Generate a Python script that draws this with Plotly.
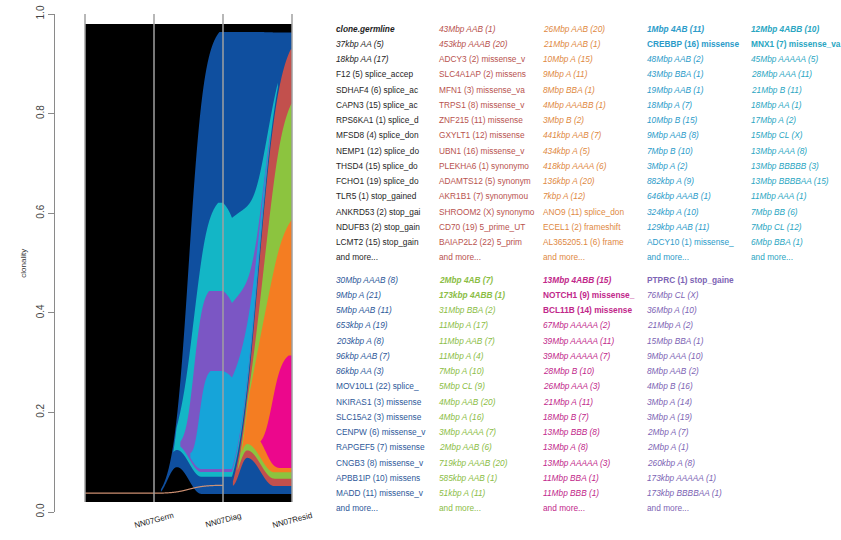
import numpy as np
import plotly.graph_objects as go

# ---------------------------------------------------------------- data
timepoints = ["NN07Germ", "NN07Diag", "NN07Resid"]

# clonality (% of cells) of every clone at NN07Germ / NN07Diag / NN07Resid
pct_germline = [100.0, 100.0, 100.0]
pct_blue = [0.0, 96.8, 96.5]
pct_red = [0.3, 0.3, 91.3]
pct_cyan = [0.0, 57.3, 0.0]
pct_purple = [0.0, 37.9, 0.0]
pct_sky = [0.0, 20.5, 0.0]
pct_green = [0.0, 0.0, 78.4]
pct_orange = [0.0, 0.0, 52.9]
pct_pink = [0.0, 0.0, 23.5]

# clone tree (children listed from the bottom of the parent upwards)
children = {
    "germline": ["blue"],
    "blue": ["red", "cyan"],
    "cyan": ["purple"],
    "purple": ["sky"],
    "red": ["green"],
    "green": ["orange"],
    "orange": ["pink"],
}

# mutations carried by each clone (first 15 shown, the rest summarised)
muts_germline = ["clone.germline", "37kbp AA (5)", "18kbp AA (17)", "F12 (5) splice_accep",
                 "SDHAF4 (6) splice_ac", "CAPN3 (15) splice_ac", "RPS6KA1 (1) splice_d",
                 "MFSD8 (4) splice_don", "NEMP1 (12) splice_do", "THSD4 (15) splice_do",
                 "FCHO1 (19) splice_do", "TLR5 (1) stop_gained", "ANKRD53 (2) stop_gai",
                 "NDUFB3 (2) stop_gain", "LCMT2 (15) stop_gain"]
muts_red = ["43Mbp AAB (1)", "453kbp AAAB (20)", "ADCY3 (2) missense_v", "SLC4A1AP (2) missens",
            "MFN1 (3) missense_va", "TRPS1 (8) missense_v", "ZNF215 (11) missense",
            "GXYLT1 (12) missense", "UBN1 (16) missense_v", "PLEKHA6 (1) synonymo",
            "ADAMTS12 (5) synonym", "AKR1B1 (7) synonymou", "SHROOM2 (X) synonymo",
            "CD70 (19) 5_prime_UT", "BAIAP2L2 (22) 5_prim"]
muts_orange = ["26Mbp AAB (20)", "21Mbp AAB (1)", "10Mbp A (15)", "9Mbp A (11)", "8Mbp BBA (1)",
               "4Mbp AAABB (1)", "3Mbp B (2)", "441kbp AAB (7)", "434kbp A (5)", "418kbp AAAA (6)",
               "136kbp A (20)", "7kbp A (12)", "ANO9 (11) splice_don", "ECEL1 (2) frameshift",
               "AL365205.1 (6) frame"]
muts_sky = ["1Mbp 4AB (11)", "CREBBP (16) missense", "48Mbp AAB (2)", "43Mbp BBA (1)",
            "19Mbp AAB (1)", "18Mbp A (7)", "10Mbp B (15)", "9Mbp AAB (8)", "7Mbp B (10)",
            "3Mbp A (2)", "882kbp A (9)", "646kbp AAAB (1)", "324kbp A (10)", "129kbp AAB (11)",
            "ADCY10 (1) missense_"]
muts_cyan = ["12Mbp 4ABB (10)", "MNX1 (7) missense_va", "45Mbp AAAAA (5)", "28Mbp AAA (11)",
             "21Mbp B (11)", "18Mbp AA (1)", "17Mbp A (2)", "15Mbp CL (X)", "13Mbp AAA (8)",
             "13Mbp BBBBB (3)", "13Mbp BBBBAA (15)", "11Mbp AAA (1)", "7Mbp BB (6)",
             "7Mbp CL (12)", "6Mbp BBA (1)"]
muts_blue = ["30Mbp AAAB (8)", "9Mbp A (21)", "5Mbp AAB (11)", "653kbp A (19)", "203kbp A (8)",
             "96kbp AAB (7)", "86kbp AA (3)", "MOV10L1 (22) splice_", "NKIRAS1 (3) missense",
             "SLC15A2 (3) missense", "CENPW (6) missense_v", "RAPGEF5 (7) missense",
             "CNGB3 (8) missense_v", "APBB1IP (10) missens", "MADD (11) missense_v"]
muts_green = ["2Mbp 4AB (7)", "173kbp 4ABB (1)", "31Mbp BBA (2)", "11Mbp A (17)", "11Mbp AAB (7)",
              "11Mbp A (4)", "7Mbp A (10)", "5Mbp CL (9)", "4Mbp AAB (20)", "4Mbp A (16)",
              "3Mbp AAAA (7)", "2Mbp AAB (6)", "719kbp AAAB (20)", "585kbp AAB (1)", "51kbp A (11)"]
muts_pink = ["13Mbp 4ABB (15)", "NOTCH1 (9) missense_", "BCL11B (14) missense", "67Mbp AAAAA (2)",
             "39Mbp AAAAA (11)", "39Mbp AAAAA (7)", "28Mbp B (10)", "26Mbp AAA (3)", "21Mbp A (11)",
             "18Mbp B (7)", "13Mbp BBB (8)", "13Mbp A (8)", "13Mbp AAAAA (3)", "11Mbp BBA (1)",
             "11Mbp BBB (1)"]
muts_purple = ["PTPRC (1) stop_gaine", "76Mbp CL (X)", "36Mbp A (10)", "21Mbp A (2)",
               "15Mbp BBA (1)", "9Mbp AAA (10)", "8Mbp AAB (2)", "4Mbp B (16)", "3Mbp A (14)",
               "3Mbp A (19)", "2Mbp A (7)", "2Mbp A (1)", "260kbp A (8)", "173kbp AAAAA (1)",
               "173kbp BBBBAA (1)"]

drivers = {"clone.germline", "1Mbp 4AB (11)", "CREBBP (16) missense", "12Mbp 4ABB (10)",
           "MNX1 (7) missense_va", "2Mbp 4AB (7)", "173kbp 4ABB (1)", "13Mbp 4ABB (15)",
           "NOTCH1 (9) missense_", "BCL11B (14) missense", "PTPRC (1) stop_gaine"}

pct = {"germline": pct_germline, "blue": pct_blue, "red": pct_red, "cyan": pct_cyan,
       "purple": pct_purple, "sky": pct_sky, "green": pct_green, "orange": pct_orange,
       "pink": pct_pink}
muts = {"germline": muts_germline, "red": muts_red, "orange": muts_orange, "sky": muts_sky,
        "cyan": muts_cyan, "blue": muts_blue, "green": muts_green, "pink": muts_pink,
        "purple": muts_purple}

# ---------------------------------------------------------------- style
fill = {"germline": "#000000", "blue": "#0f4f9f", "red": "#c2504d", "cyan": "#13b6c6",
        "purple": "#7b56c4", "sky": "#16a4d9", "green": "#8cc43f", "orange": "#f47d22",
        "pink": "#ec078c"}
text_col = {"germline": "#1e1e1e", "blue": "#2d5899", "red": "#b8524e", "cyan": "#2aa6c2",
            "purple": "#7d64b4", "sky": "#2b9bc9", "green": "#8bbd45", "orange": "#e0893f",
            "pink": "#c1278a"}
trace_col = "rgba(214,150,118,0.95)"

# fish shape: where a clone starts/finishes growing or fading inside an interval
shape = {
    "blue": dict(onset=0.05, full=0.96, k=8.0, c=0.5, hump=5.6, hump_peak=0.31, hump_end=0.70),
    "red": dict(onset=0.13, full=0.98, k=5.5, c=0.45, hump=5.9, hump_peak=0.26, hump_end=0.72),
    "cyan": dict(onset=0.18, full=0.93, fade=0.85, k=7.0, c=0.5),
    "purple": dict(onset=0.34, full=0.80, fade=0.75, k=7.0, c=0.5),
    "sky": dict(onset=0.48, full=0.82, fade=0.75, k=7.0, c=0.5),
    "green": dict(onset=0.19, full=0.99, k=5.5, c=0.47),
    "orange": dict(onset=0.20, full=1.00, k=5.0, c=0.42),
    "pink": dict(onset=0.43, full=0.95, k=6.5, c=0.5, hump=2.5, hump_peak=0.22, hump_end=0.75),
}
K_GAP = 0.017          # spacing between a parent edge and its children
Y_LO, Y_SPAN = 0.02, 0.96

W, Hpx = 841, 540
PX_AXIS, PX_X0, PX_X3 = 55, 85, 292
PY_TOP, PY_ZERO = 13.5, 512.0
px_per_x = (PX_X3 - PX_X0) / 3.0
x_lo = (PX_AXIS - PX_X0) / px_per_x
x_hi = 3.0 + 2.0 / px_per_x
plot_w = W - PX_AXIS
LEGEND_FONT = "Liberation Sans, Arial, sans-serif"


def xpaper(px):
    return (px - PX_AXIS) / plot_w


def ypaper(py):
    return (PY_ZERO - py) / (PY_ZERO - PY_TOP)


# ---------------------------------------------------------------- fish layout
X = np.linspace(0.0, 3.0, 1801)


def smooth(u, k=8.0, c=0.5):
    u = np.clip(u, 0.0, 1.0)
    l0 = 1.0 / (1.0 + np.exp(k * c))
    l1 = 1.0 / (1.0 + np.exp(-k * (1.0 - c)))
    return (1.0 / (1.0 + np.exp(-k * (u - c))) - l0) / (l1 - l0)


def bump(u, peak, end):
    out = np.zeros_like(u)
    m1 = (u > 0) & (u < peak)
    out[m1] = 0.5 - 0.5 * np.cos(np.pi * u[m1] / peak)
    m2 = (u >= peak) & (u < end)
    out[m2] = 0.5 + 0.5 * np.cos(np.pi * (u[m2] - peak) / (end - peak))
    return out


def clone_height(name):
    p = pct[name]
    sp = shape.get(name, {})
    k, c = sp.get("k", 8.0), sp.get("c", 0.5)
    h = np.full_like(X, p[0])
    hump = np.zeros_like(X)
    for i in range(len(timepoints) - 1):
        t0 = i + 1.0
        m = (X > t0) & (X <= t0 + 1.0)
        u = X[m] - t0
        a, b = p[i], p[i + 1]
        if a < 1.0 <= b:
            uu = (u - sp["onset"]) / (sp["full"] - sp["onset"])
            h[m] = a + (b - a) * smooth(uu, k, c)
            if sp.get("hump"):
                hump[m] = sp["hump"] * bump(np.clip(uu, 0, None), sp["hump_peak"], sp["hump_end"])
        elif b < 1.0 <= a:
            h[m] = a + (b - a) * smooth(u / sp["fade"], k, c)
        else:
            h[m] = a + (b - a) * smooth(u)
    return h, hump


HGT, HUMP = {}, {}
for n in pct:
    HGT[n], HUMP[n] = clone_height(n)

bot = {"germline": np.zeros_like(X)}
top = {"germline": HGT["germline"].copy()}
base = {"germline": np.zeros_like(X)}   # hump-free position, used for trace-level clones


def place(parent):
    gap = K_GAP * HGT[parent].max()
    gap_base = K_GAP * HGT[parent]
    cur = bot[parent].copy()
    cur_base = base[parent].copy()
    for ch in children.get(parent, []):
        nb = cur + gap
        base[ch] = cur_base + gap_base
        t = np.minimum(nb + HGT[ch], top[parent] - gap)
        b = np.minimum(nb + HUMP[ch], t)
        bot[ch], top[ch] = b, t
        cur = nb + HGT[ch]
        cur_base = base[ch] + HGT[ch]
        place(ch)


place("germline")


def to_y(f):
    return Y_LO + Y_SPAN * f / 100.0


def runs(mask):
    idx = np.flatnonzero(mask)
    if idx.size == 0:
        return []
    cuts = np.flatnonzero(np.diff(idx) > 1)
    starts = np.concatenate([[idx[0]], idx[cuts + 1]])
    ends = np.concatenate([idx[cuts], [idx[-1]]])
    return list(zip(starts, ends))


fig = go.Figure()
draw_order = ["germline", "blue", "red", "cyan", "purple", "sky", "green", "orange", "pink"]
for n in draw_order:
    visible = (HGT[n] >= 1.0) & (top[n] - bot[n] > 1e-4)
    for s, e in runs(visible):
        s0, e0 = max(s - 1, 0), min(e + 1, len(X) - 1)
        xs = X[s0:e0 + 1]
        yt = to_y(top[n][s0:e0 + 1])
        yb = to_y(bot[n][s0:e0 + 1])
        fig.add_trace(go.Scatter(x=np.concatenate([xs, xs[::-1]]),
                                 y=np.concatenate([yt, yb[::-1]]),
                                 mode="lines", fill="toself", fillcolor=fill[n],
                                 line=dict(width=0, color=fill[n], simplify=False),
                                 hoverinfo="skip", showlegend=False))

# clones at trace level are drawn as a hairline
for n in draw_order:
    p = pct[n]
    if 0 < p[0] < 1.0:
        last = max(i for i, v in enumerate(p) if 0 < v < 1.0) + 1.0
        m = X <= last
        fig.add_trace(go.Scatter(x=X[m], y=to_y(base[n][m] + HGT[n][m] / 2), mode="lines",
                                 line=dict(width=1.2, color=trace_col, simplify=False),
                                 hoverinfo="skip", showlegend=False))

# timepoint guides
for xv in range(len(timepoints) + 1):
    fig.add_shape(type="line", x0=xv, x1=xv, y0=Y_LO, y1=1.0, xref="x", yref="y",
                  line=dict(color="rgba(160,160,160,0.75)", width=2), layer="above")

annotations = []
for i, tp_name in enumerate(timepoints):
    annotations.append(dict(x=i + 1, y=ypaper(521), xref="x", yref="paper", text=tp_name,
                            showarrow=False, textangle=-15, xanchor="center", yanchor="middle",
                            font=dict(size=8, color="#222222")))
annotations.append(dict(x=xpaper(17), y=ypaper(263), xref="paper", yref="paper",
                        text="clonality", showarrow=False, textangle=-90,
                        font=dict(size=8, color="#333333")))

# mutation listing, one column per clone
top_block = ["germline", "red", "orange", "sky", "cyan"]
bottom_block = ["blue", "green", "pink", "purple"]
col_px = [334, 437, 541, 645, 749]
row_step = 15.25
for block, y0 in ((top_block, 28.3), (bottom_block, 279.5)):
    for ci, n in enumerate(block):
        for ri, label in enumerate(muts[n] + ["and more..."]):
            txt = label
            if "bp " in label or label == "clone.germline":
                txt = "<i>" + txt + "</i>"
            if label in drivers:
                txt = "<b>" + txt + "</b>"
            annotations.append(dict(x=xpaper(col_px[ci]), y=ypaper(y0 + ri * row_step),
                                    xref="paper", yref="paper", text=txt, showarrow=False,
                                    xanchor="left", yanchor="middle",
                                    font=dict(size=8.3, color=text_col[n], family=LEGEND_FONT)))

fig.update_layout(
    width=W, height=Hpx,
    margin=dict(l=PX_AXIS, r=0, t=PY_TOP, b=Hpx - PY_ZERO),
    paper_bgcolor="white", plot_bgcolor="white",
    font=dict(family="Liberation Sans, Arial, sans-serif"),
    xaxis=dict(range=[x_lo, x_hi], domain=[0, (PX_X3 + 2 - PX_AXIS) / plot_w], visible=False,
               fixedrange=True),
    yaxis=dict(range=[0, 1], tickvals=[0, 0.2, 0.4, 0.6, 0.8, 1.0],
               ticktext=["0.0", "0.2", "0.4", "0.6", "0.8", "1.0"], tickangle=-90,
               showline=True, linecolor="#8a8a8a", linewidth=1, ticks="outside", ticklen=6,
               tickcolor="#8a8a8a", tickfont=dict(size=10, color="#444444"),
               showgrid=False, zeroline=False, fixedrange=True),
    annotations=annotations,
    showlegend=False,
)

fig.write_html("out.html")
